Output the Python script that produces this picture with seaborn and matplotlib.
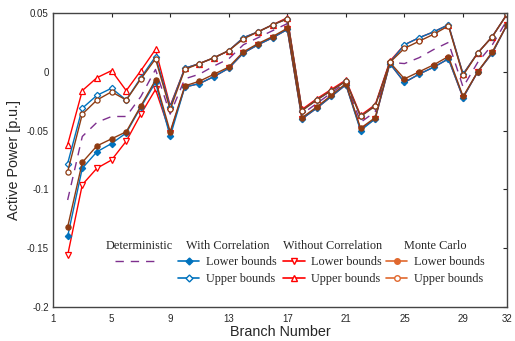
import matplotlib
matplotlib.use('Agg')
import matplotlib.pyplot as plt
from matplotlib.lines import Line2D
from matplotlib.font_manager import FontProperties
import seaborn as sns

# ---------------- data ----------------
branches = list(range(2, 33))

deterministic = [-0.109, -0.055, -0.043, -0.038, -0.038, -0.021, 0.002, -0.036, -0.006, -0.002,
                 0.005, 0.011, 0.023, 0.029, 0.035, 0.041, -0.036, -0.027, -0.018, -0.009,
                 -0.043, -0.034, 0.008, 0.007, 0.012, 0.019, 0.025, -0.013, 0.008, 0.023, 0.044]

wc_upper = [-0.078, -0.031, -0.020, -0.014, -0.024, -0.005, 0.013, -0.030, 0.003, 0.007,
            0.012, 0.018, 0.029, 0.034, 0.040, 0.045, -0.033, -0.024, -0.016, -0.008,
            -0.038, -0.029, 0.008, 0.023, 0.029, 0.034, 0.040, -0.002, 0.016, 0.030, 0.049]
wc_lower = [-0.140, -0.082, -0.068, -0.061, -0.052, -0.030, -0.009, -0.055, -0.013, -0.010,
            -0.004, 0.003, 0.016, 0.023, 0.029, 0.036, -0.040, -0.031, -0.021, -0.011,
            -0.050, -0.040, 0.007, -0.009, -0.002, 0.004, 0.011, -0.022, 0.000, 0.016, 0.040]

woc_upper = [-0.062, -0.016, -0.005, 0.001, -0.016, 0.001, 0.019, -0.029, 0.003, 0.007,
             0.012, 0.018, 0.029, 0.034, 0.040, 0.046, -0.032, -0.023, -0.015, -0.007,
             -0.037, -0.028, 0.009, 0.023, 0.029, 0.034, 0.040, -0.002, 0.016, 0.030, 0.049]
woc_lower = [-0.156, -0.096, -0.082, -0.075, -0.059, -0.036, -0.015, -0.052, -0.013, -0.010,
             -0.004, 0.003, 0.016, 0.023, 0.029, 0.036, -0.040, -0.031, -0.021, -0.011,
             -0.049, -0.040, 0.007, -0.009, -0.002, 0.004, 0.011, -0.022, 0.000, 0.016, 0.040]

mc_upper = [-0.085, -0.036, -0.024, -0.017, -0.024, -0.006, 0.011, -0.032, 0.002, 0.007,
            0.012, 0.018, 0.028, 0.034, 0.040, 0.045, -0.033, -0.024, -0.016, -0.008,
            -0.038, -0.029, 0.008, 0.020, 0.026, 0.032, 0.039, -0.003, 0.016, 0.030, 0.049]
mc_lower = [-0.132, -0.077, -0.063, -0.057, -0.051, -0.029, -0.007, -0.051, -0.012, -0.008,
            -0.002, 0.004, 0.017, 0.024, 0.030, 0.037, -0.039, -0.030, -0.020, -0.010,
            -0.048, -0.039, 0.008, -0.006, 0.000, 0.006, 0.013, -0.021, 0.000, 0.017, 0.040]

x_ticks = [1, 5, 9, 13, 17, 21, 25, 29, 32]
y_ticks = [-0.2, -0.15, -0.1, -0.05, 0, 0.05]
y_tick_labels = ['-0.2', '-0.15', '-0.1', '-0.05', '0', '0.05']

# ---------------- style ----------------
sns.set_style('white')
plt.rcParams['font.family'] = ['Liberation Sans', 'DejaVu Sans']

C_DET = '#7E2F8E'
C_WC = '#0072BD'
C_WOC = '#FF0000'
C_MC = '#8E3B12'
C_MC_LEG = '#E0682E'

W, H = 515, 341
fig = plt.figure(figsize=(W / 100, H / 100), dpi=100)
ax = fig.add_axes([53 / W, 1 - 307 / H, (507 - 53) / W, (307 - 13) / H])


def draw(y, color, marker, filled, ms, ls='-'):
    sns.lineplot(x=branches, y=y, ax=ax, color=color, marker=marker, markersize=ms,
                 markerfacecolor=color if filled else 'white', markeredgecolor=color,
                 markeredgewidth=0.9, linewidth=1.0, linestyle=ls, legend=False)


sns.lineplot(x=branches, y=deterministic, ax=ax, color=C_DET, linewidth=1.0,
             linestyle=(0, (6, 5)), legend=False)
draw(woc_lower, C_WOC, 'v', False, 4)
draw(woc_upper, C_WOC, '^', False, 4)
draw(wc_lower, C_WC, 'D', True, 3.2)
draw(wc_upper, C_WC, 'D', False, 3.2)
draw(mc_lower, C_MC, 'o', True, 3.7)
draw(mc_upper, C_MC, 'o', False, 3.7)

ax.set_xlim(1, 32)
ax.set_ylim(-0.2, 0.05)
ax.set_xticks(x_ticks)
ax.set_xticklabels([str(t) for t in x_ticks])
ax.set_yticks(y_ticks)
ax.set_yticklabels(y_tick_labels)
ax.tick_params(direction='in', length=3, width=0.8, top=True, right=True,
               labelsize=7, colors='#262626', pad=3)
ax.tick_params(axis='x', pad=5)
for s in ax.spines.values():
    s.set_color('#444444')
    s.set_linewidth(1.0)

ax.set_xlabel('Branch Number', fontsize=10.4, color='#262626', labelpad=1)
ax.set_ylabel('Active Power [p.u.]', fontsize=10.4, color='#262626', labelpad=4)

# ---------------- legend (four titled columns) ----------------
fp = FontProperties(family=['Liberation Serif', 'DejaVu Serif'], size=8.8)


def col_legend(handles, labels, title, left_px, hl):
    leg = fig.legend(handles, labels, title=title, loc='upper left',
                     bbox_to_anchor=(left_px / W, 1 - 240 / H), frameon=False,
                     prop=fp, title_fontproperties=fp, handlelength=hl,
                     handletextpad=0.55, labelspacing=0.36, borderpad=0,
                     borderaxespad=0)
    return leg


det_h = [Line2D([], [], color=C_DET, lw=1.0, linestyle=(0, (6, 5)))]
col_legend(det_h, [''], 'Deterministic', 106, 3.4)

wc_h = [Line2D([], [], color=C_WC, lw=1.2, marker='D', ms=3.5, mfc=C_WC, mec=C_WC),
        Line2D([], [], color=C_WC, lw=1.2, marker='D', ms=3.5, mfc='white', mec=C_WC)]
col_legend(wc_h, ['Lower bounds', 'Upper bounds'], 'With Correlation', 178, 1.75)

woc_h = [Line2D([], [], color=C_WOC, lw=1.2, marker='v', ms=4.2, mfc='white', mec=C_WOC),
         Line2D([], [], color=C_WOC, lw=1.2, marker='^', ms=4.2, mfc='white', mec=C_WOC)]
col_legend(woc_h, ['Lower bounds', 'Upper bounds'], 'Without Correlation', 283, 1.75)

mc_h = [Line2D([], [], color=C_MC_LEG, lw=1.2, marker='o', ms=4, mfc=C_MC_LEG, mec=C_MC_LEG),
        Line2D([], [], color=C_MC_LEG, lw=1.2, marker='o', ms=4, mfc='white', mec=C_MC_LEG)]
col_legend(mc_h, ['Lower bounds', 'Upper bounds'], 'Monte Carlo', 386, 1.75)

fig.savefig('out.png', dpi=100)
